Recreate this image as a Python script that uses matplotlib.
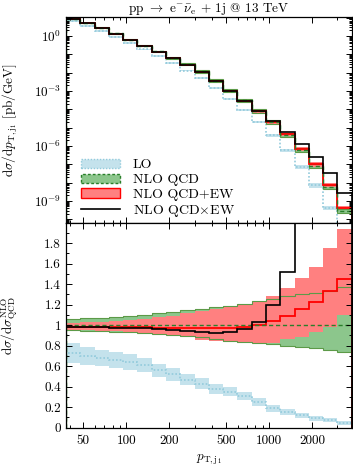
import numpy as np
import matplotlib.pyplot as plt
from matplotlib.ticker import FixedLocator, FuncFormatter, NullFormatter, LogLocator, MultipleLocator
from matplotlib.patches import Patch
from matplotlib.lines import Line2D

plt.rcParams['font.family'] = ['cmr10', 'DejaVu Serif']
plt.rcParams['mathtext.fontset'] = 'cm'
plt.rcParams['axes.formatter.use_mathtext'] = True
plt.rcParams['font.size'] = 9.5

# bin edges of leading-jet pT [GeV]
edges = [37.8, 47.6, 59.9, 75.4, 94.9, 119.4, 150.4, 189.3, 238.3, 300.0, 377.7,
         475.5, 598.6, 753.6, 948.7, 1194.3, 1503.6, 1892.9, 2383.0, 3000.0, 3776.8]

# NLO QCD central [pb/GeV]
nlo = [9.0, 5.1, 2.73, 1.37, 0.644, 0.303, 0.143, 0.063, 0.0279, 0.01157, 3.73e-3,
       1.06e-3, 3.03e-4, 8.1e-5, 1.98e-5, 3.97e-6, 6.04e-7, 8.1e-8, 5.8e-9, 2.83e-10]

# ratios to NLO QCD
lo_r = [0.73, 0.70, 0.68, 0.66, 0.64, 0.61, 0.56, 0.52, 0.47, 0.43, 0.38, 0.35,
        0.31, 0.25, 0.19, 0.15, 0.12, 0.09, 0.075, 0.05]
lo_dn = [0.63, 0.615, 0.60, 0.58, 0.565, 0.54, 0.495, 0.46, 0.415, 0.38, 0.33, 0.305,
         0.27, 0.21, 0.155, 0.12, 0.092, 0.065, 0.053, 0.03]
lo_up = [0.83, 0.79, 0.76, 0.74, 0.715, 0.68, 0.625, 0.58, 0.525, 0.48, 0.43, 0.395,
         0.35, 0.29, 0.225, 0.18, 0.148, 0.115, 0.097, 0.07]

qcd_up = [1.06, 1.066, 1.072, 1.08, 1.09, 1.10, 1.115, 1.13, 1.145, 1.16, 1.175, 1.19,
          1.21, 1.235, 1.26, 1.28, 1.30, 1.315, 1.335, 1.37]
qcd_dn = [0.95, 0.945, 0.94, 0.935, 0.93, 0.92, 0.915, 0.905, 0.896, 0.88, 0.864, 0.848,
          0.832, 0.822, 0.815, 0.80, 0.79, 0.773, 0.757, 0.74]

ew_r = [0.985, 0.985, 0.983, 0.982, 0.98, 0.978, 0.976, 0.974, 0.97, 0.97, 0.972, 0.975,
        0.985, 1.005, 1.045, 1.085, 1.155, 1.23, 1.335, 1.45]
ew_up = [1.023, 1.03, 1.033, 1.043, 1.05, 1.06, 1.076, 1.092, 1.115, 1.14, 1.154, 1.174,
         1.206, 1.238, 1.287, 1.36, 1.457, 1.57, 1.75, 1.935]
ew_dn = [0.955, 0.95, 0.945, 0.94, 0.935, 0.925, 0.915, 0.90, 0.88, 0.855, 0.845, 0.838,
         0.828, 0.822, 0.822, 0.861, 0.88, 0.93, 0.985, 1.10]

mult_r = [0.98, 0.98, 0.978, 0.976, 0.974, 0.97, 0.965, 0.958, 0.94, 0.93, 0.925, 0.93,
          0.96, 1.035, 1.2, 1.52, 2.2, 3.0, 5.8, 9.6]

c_lo_fill = '#c4e2ec'
c_lo_line = '#93cbdc'
c_qcd_fill = '#8cc68c'
c_qcd_edge = '#5c9a48'
c_qcd_line = '#2a7f2a'
c_ew_fill = '#ff8080'
c_ew_line = '#ff0000'

nlo = np.array(nlo)
e = np.array(edges)

W, H = 353, 469
fig = plt.figure(figsize=(W / 100, H / 100), dpi=100)
ax1 = fig.add_axes([66 / W, 1 - 222.7 / H, 285.7 / W, 205.4 / H])
ax2 = fig.add_axes([66 / W, 1 - 427.7 / H, 285.7 / W, 205.0 / H])


def draw(ax, s):
    ax.stairs(np.array(lo_up) * s, e, baseline=np.array(lo_dn) * s, fill=True,
              color=c_lo_fill, lw=0)
    ax.stairs(np.array(lo_r) * s, e, color=c_lo_line, lw=1.2, ls=(0, (1, 1.2)))
    ax.stairs(np.array(qcd_up) * s, e, baseline=np.array(qcd_dn) * s, fill=True,
              color=c_qcd_fill, lw=0)
    ax.stairs(np.array(ew_up) * s, e, baseline=np.array(ew_dn) * s, fill=True,
              color=c_ew_fill, lw=0)
    ax.stairs(np.array(qcd_up) * s, e, color=c_qcd_edge, lw=0.8)
    ax.stairs(np.array(qcd_dn) * s, e, color=c_qcd_edge, lw=0.8)
    ax.stairs(np.array(ew_r) * s, e, color=c_ew_line, lw=1.3)
    ax.stairs(np.ones(len(nlo)) * s, e, color=c_qcd_line, lw=1.0, ls=(0, (3, 2)))
    ax.stairs(np.array(mult_r) * s, e, color='black', lw=1.2)


draw(ax1, nlo)
draw(ax2, np.ones(len(nlo)))

for ax in (ax1, ax2):
    ax.set_xscale('log')
    ax.set_xlim(edges[0], edges[-1])
    ax.xaxis.set_major_locator(FixedLocator([50, 100, 200, 500, 1000, 2000]))
    ax.xaxis.set_minor_locator(FixedLocator([40, 60, 70, 80, 90, 300, 400, 600, 700,
                                             800, 900, 3000]))
    ax.xaxis.set_minor_formatter(NullFormatter())
    ax.tick_params(which='both', direction='in', top=True, right=True, width=0.7)
    ax.tick_params(which='major', length=4)
    ax.tick_params(which='minor', length=2)
    for sp in ax.spines.values():
        sp.set_linewidth(0.9)

ax1.set_yscale('log')
ax1.set_ylim(10 ** -10.185, 10 ** 1.02)
ax1.yaxis.set_major_locator(FixedLocator([10.0 ** k for k in range(-10, 2)]))
ax1.yaxis.set_major_formatter(FuncFormatter(
    lambda v, p: r'$10^{%d}$' % round(np.log10(v)) if round(np.log10(v)) % 3 == 0 else ''))
ax1.yaxis.set_minor_locator(LogLocator(base=10, subs=np.arange(2, 10), numticks=100))
ax1.yaxis.set_minor_formatter(NullFormatter())
ax1.xaxis.set_major_formatter(NullFormatter())
ax1.set_ylabel(r'$\mathrm{d}\sigma/\mathrm{d}p_{\mathrm{T,j_1}}$ [pb/GeV]')
ax1.yaxis.set_label_coords(-0.16, 0.5)
ax1.set_title(r'pp $\rightarrow$ e$^{-}\bar{\nu}_{\mathrm{e}}$ + 1j @ 13 TeV',
              fontsize=9.5, pad=4)

ax2.set_ylim(0, 2)
ax2.yaxis.set_major_locator(MultipleLocator(0.2))
ax2.yaxis.set_minor_locator(MultipleLocator(0.1))
ax2.yaxis.set_major_formatter(FuncFormatter(lambda v, p: '' if v > 1.95 else '%g' % round(v, 1)))
ax2.xaxis.set_major_formatter(FuncFormatter(lambda v, p: '%d' % v))
ax2.tick_params(axis='x', pad=5)
ax2.set_ylabel(r'$\mathrm{d}\sigma/\mathrm{d}\sigma^{\mathrm{NLO}}_{\mathrm{QCD}}$')
ax2.yaxis.set_label_coords(-0.16, 0.5)
ax2.set_xlabel(r'$p_{\mathrm{T,j_1}}$')
ax2.xaxis.set_label_coords(0.5, -0.125)

handles = [
    Patch(facecolor=c_lo_fill, edgecolor=c_lo_line, lw=1.0, ls=(0, (1, 1.2))),
    Patch(facecolor=c_qcd_fill, edgecolor=c_qcd_line, lw=1.0, ls=(0, (2, 1.5))),
    Patch(facecolor=c_ew_fill, edgecolor=c_ew_line, lw=1.0),
    Line2D([], [], color='black', lw=1.2),
]
labels = ['LO', 'NLO QCD', 'NLO QCD+EW', r'NLO QCD$\times$EW']
ax1.legend(handles, labels, loc='lower left', bbox_to_anchor=(0.02, -0.03), frameon=False,
           handlelength=2.8, handleheight=0.65, handletextpad=0.9, labelspacing=0.16,
           borderaxespad=0.3, fontsize=10)

fig.savefig('out.png', dpi=100)
